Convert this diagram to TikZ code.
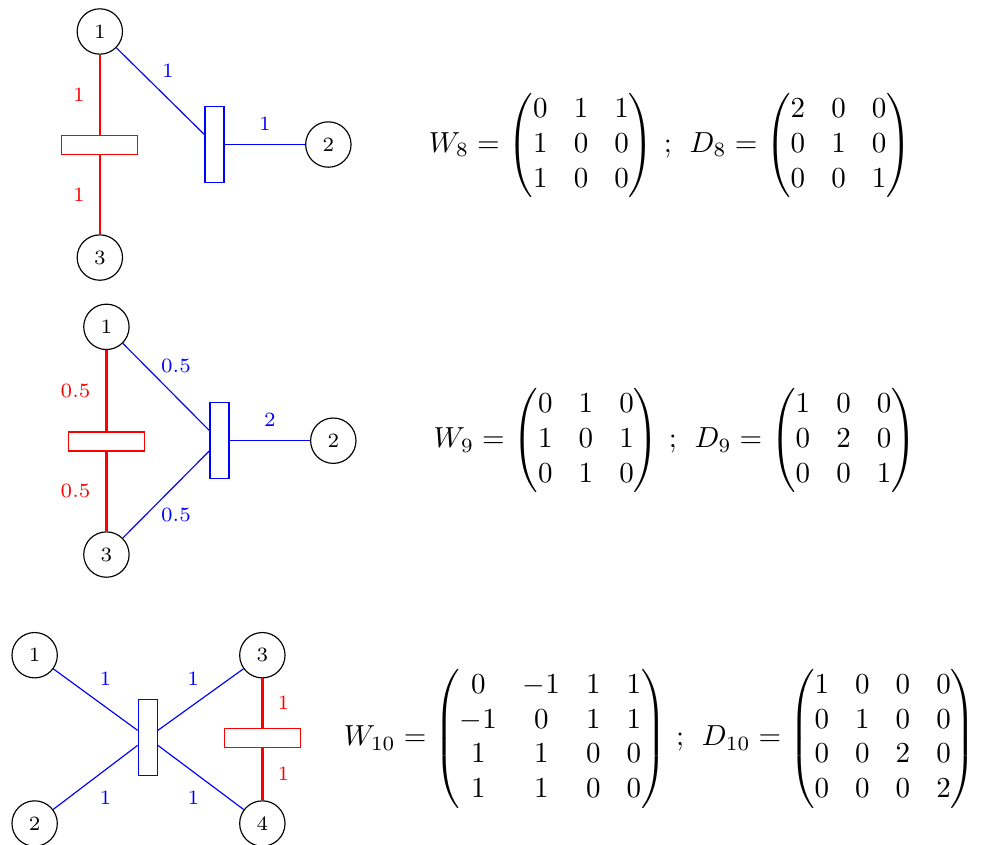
\documentclass[tikz,border=0pt]{standalone}
\usepackage{amsmath}
\usepackage{tikz}
\usetikzlibrary{positioning}

\begin{document}
\begin{tikzpicture}[
  vertex/.style={circle, draw, minimum size=0.55cm, inner sep=0pt, font=\scriptsize},
  redbar/.style={rectangle, draw=red, minimum width=0.92cm, minimum height=0.23cm, inner sep=0pt},
  bluebar/.style={rectangle, draw=blue, minimum width=0.23cm, minimum height=0.92cm, inner sep=0pt},
  redline/.style={red, thick},
  blueline/.style={blue},
  rlbl/.style={text=red, font=\scriptsize},
  blbl/.style={text=blue, font=\scriptsize},
  eqn/.style={anchor=west, inner sep=0pt, execute at begin node={\arraycolsep=4.5pt}}
]
  \useasboundingbox (0,0) rectangle (11.927,10.242);

  % graph 8
  \node[vertex] (a1) at (1.21,9.86) {1};
  \node[vertex] (a2) at (3.98,8.49) {2};
  \node[vertex] (a3) at (1.21,7.12) {3};
  \node[redbar]  (ar) at (1.21,8.48) {};
  \node[bluebar] (ab) at (2.60,8.49) {};
  \draw[redline] (a1) -- node[rlbl, left=1.5pt] {1} (ar);
  \draw[redline] (ar) -- node[rlbl, left=1.5pt] {1} (a3);
  \draw[blueline] (a1) -- node[blbl, above=1.3pt, xshift=0.09cm] {1} (ab);
  \draw[blueline] (ab) -- node[blbl, above=1.3pt] {1} (a2);
  \node[eqn] (eq8) at (5.19,8.48)
    {$W_8 = \begin{pmatrix}0&1&1\\1&0&0\\1&0&0\end{pmatrix}\,;\;\,
      D_8 = \begin{pmatrix}2&0&0\\0&1&0\\0&0&1\end{pmatrix}$};

  % graph 9
  \node[vertex] (b1) at (1.29,6.28) {1};
  \node[vertex] (b2) at (4.04,4.90) {2};
  \node[vertex] (b3) at (1.29,3.52) {3};
  \node[redbar]  (br) at (1.29,4.89) {};
  \node[bluebar] (bb) at (2.66,4.90) {};
  \draw[redline] (b1) -- node[rlbl, left=1.8pt] {0.5} (br);
  \draw[redline] (br) -- node[rlbl, left=1.8pt] {0.5} (b3);
  \draw[blueline] (b1) -- node[blbl, above=1.3pt, xshift=0.12cm] {0.5} (bb);
  \draw[blueline] (b3) -- node[blbl, below=1.3pt, xshift=0.12cm] {0.5} (bb);
  \draw[blueline] (bb) -- node[blbl, above=1.3pt] {2} (b2);
  \node[eqn] (eq9) at (5.25,4.90)
    {$W_9 = \begin{pmatrix}0&1&0\\1&0&1\\0&1&0\end{pmatrix}\,;\;\,
      D_9 = \begin{pmatrix}1&0&0\\0&2&0\\0&0&1\end{pmatrix}$};

  % graph 10
  \node[vertex] (c1) at (0.42,2.30) {1};
  \node[vertex] (c2) at (0.42,0.26) {2};
  \node[vertex] (c3) at (3.18,2.30) {3};
  \node[vertex] (c4) at (3.18,0.26) {4};
  \node[bluebar] (cb) at (1.79,1.30) {};
  \node[redbar]  (cr) at (3.18,1.30) {};
  \draw[blueline] (c1) -- node[blbl, above=1.3pt, xshift=0.12cm] {1} (cb);
  \draw[blueline] (c2) -- node[blbl, below=1.3pt, xshift=0.12cm] {1} (cb);
  \draw[blueline] (c3) -- node[blbl, above=1.3pt, xshift=-0.09cm] {1} (cb);
  \draw[blueline] (c4) -- node[blbl, below=1.3pt, xshift=-0.09cm] {1} (cb);
  \draw[redline] (c3) -- node[rlbl, right=1.5pt] {1} (cr);
  \draw[redline] (cr) -- node[rlbl, right=1.5pt] {1} (c4);
  \node[eqn] (eq10) at (4.16,1.29)
    {$W_{10} = \begin{pmatrix}0&-1&1&1\\-1&0&1&1\\1&1&0&0\\1&1&0&0\end{pmatrix}\,;\;\,
      D_{10} = \begin{pmatrix}1&0&0&0\\0&1&0&0\\0&0&2&0\\0&0&0&2\end{pmatrix}$};
\end{tikzpicture}
\end{document}
